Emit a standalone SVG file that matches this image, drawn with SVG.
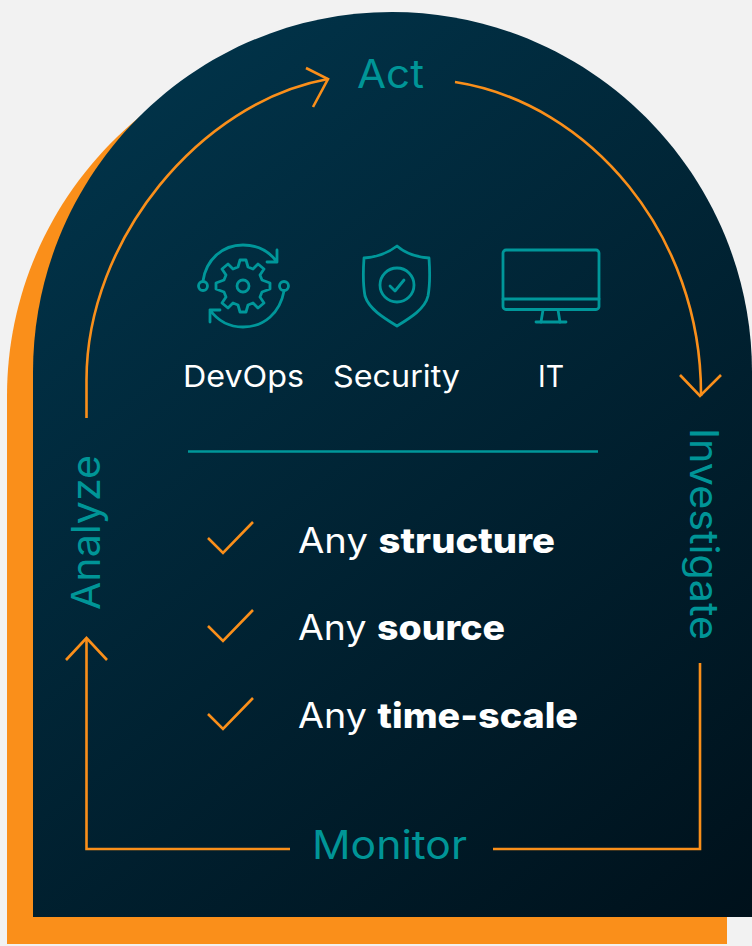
<svg xmlns="http://www.w3.org/2000/svg" width="752" height="946" viewBox="0 0 752 946">
<style>
.flow{fill:none;stroke:#fa8f1a;stroke-width:2.600;stroke-linejoin:miter}
.icon{fill:none;stroke:#00979a;stroke-width:2.800;stroke-linejoin:round;stroke-linecap:round}
.label{font-family:"Inter","Noto Sans",sans-serif;fill:#009597;font-size:39px}
.white{font-family:"Inter","Noto Sans",sans-serif;fill:#fff;font-size:30px}
.big{font-size:35px}
.w2{font-weight:800}
</style>
<defs>
<linearGradient id="bg" gradientUnits="userSpaceOnUse" x1="100" y1="100" x2="752" y2="917">
<stop offset="0" stop-color="#013349"/><stop offset="1" stop-color="#00111b"/>
</linearGradient>
</defs>
<rect width="752" height="946" fill="#f2f2f2"/>
<path id="shadow" d="M7 944V396C7 199 167 36 366 36C565 36 727 199 727 396V944Z" fill="#fa8f1a"/>
<path id="panel" d="M33 917V372C33 175 193 12 392 12C591 12 752 175 752 372V917Z" fill="url(#bg)"/>
<g id="connectors">
<path class="flow" d="M86.500 418V380C86.500 240 200 102 328 79"/>
<path class="flow" d="M306 68L328 79L313 107"/>
<path class="flow" d="M455 82C590 103 702 235 701 396"/>
<path class="flow" d="M680 375L700 396L721 375"/>
<path class="flow" d="M700 663V849H493"/>
<path class="flow" d="M290 849H86.500V638"/>
<path class="flow" d="M66 660L86.500 638L107 660"/>
</g>
<g id="act"><text class="label" x="357" y="88" textLength="67" lengthAdjust="spacingAndGlyphs">Act</text></g>
<g id="investigate"><text class="label" transform="translate(690 428) rotate(90)" textLength="212" lengthAdjust="spacingAndGlyphs">Investigate</text></g>
<g id="monitor"><text class="label" x="312" y="859" textLength="155" lengthAdjust="spacingAndGlyphs">Monitor</text></g>
<g id="analyze"><text class="label" transform="translate(100 610) rotate(-90)" textLength="155" lengthAdjust="spacingAndGlyphs">Analyze</text></g>
<g id="devops">
<circle class="icon" cx="243" cy="286" r="6"/>
<path class="icon" d="M240 260L246 260L248 267L253 269L258 264L264 269L260 275L262 280L270 283V289L262 292L260 297L264 303L258 308L253 303L248 305L246 312H240L238 305L233 303L228 308L222 303L226 297L224 292L216 289V283L224 280L226 275L222 269L228 264L233 269L238 267Z"/>
<circle class="icon" cx="203" cy="286" r="4.500"/>
<circle class="icon" cx="284" cy="286" r="4.500"/>
<path class="icon" d="M203 281C206 260 222 245 243 245C257 245 269 251 277 262M277 250V262H267"/>
<path class="icon" d="M284 291C280 313 264 327 243 327C229 327 218 321 210 310M210 322V310H220"/>
<text class="white" x="183" y="387" textLength="121" lengthAdjust="spacingAndGlyphs">DevOps</text>
</g>
<g id="security">
<path class="icon" d="M397 246C388 253 378 257 364 258C363 272 363 285 365 296C369 309 384 318 397 326C410 318 425 309 428 296C430 285 430 272 429 258C415 257 405 253 397 246Z"/>
<circle class="icon" cx="397" cy="285" r="17"/>
<path class="icon" d="M390 286L395 291L404 280"/>
<text class="white" x="333" y="387" textLength="127" lengthAdjust="spacingAndGlyphs">Security</text>
</g>
<g id="it">
<rect class="icon" x="503" y="250" width="96" height="59.500" rx="3"/>
<path class="icon" d="M503 299H599M543 310L541 322M558 310L560 322"/>
<path class="icon" d="M536 322H566"/>
<text class="white" x="538" y="387" textLength="26" lengthAdjust="spacingAndGlyphs">IT</text>
</g>
<path id="divider" d="M188 451.500H598" stroke="#00979a" stroke-width="2.600" fill="none"/>
<g id="item1"><path class="flow" d="M208 538L223 553L253 522"/><text class="white big" x="298" y="553" textLength="257" lengthAdjust="spacingAndGlyphs">Any <tspan class="w2">structure</tspan></text></g>
<g id="item2"><path class="flow" d="M208 626L223 641L253 610"/><text class="white big" x="298" y="640" textLength="207" lengthAdjust="spacingAndGlyphs">Any <tspan class="w2">source</tspan></text></g>
<g id="item3"><path class="flow" d="M208 714L223 729L253 698"/><text class="white big" x="298" y="728" textLength="280" lengthAdjust="spacingAndGlyphs">Any <tspan class="w2">time-scale</tspan></text></g>
</svg>
